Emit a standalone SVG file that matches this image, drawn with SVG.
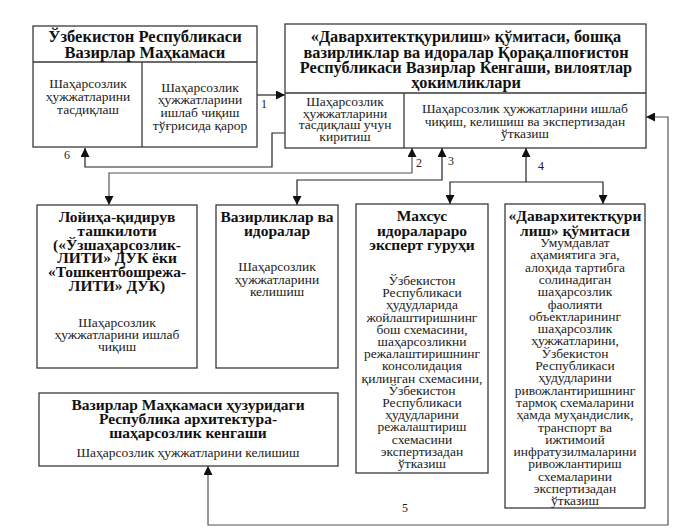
<svg xmlns="http://www.w3.org/2000/svg" width="679" height="531" viewBox="0 0 679 531">
<style>
.box{fill:#fff;stroke:#3a3a3a;stroke-width:1.3}
.div{fill:none;stroke:#3a3a3a;stroke-width:1.3}
.t{font-family:"Liberation Serif","DejaVu Serif",serif;font-weight:bold;fill:#111;text-anchor:middle}
.b{font-family:"Liberation Serif","DejaVu Serif",serif;fill:#222;text-anchor:middle;font-size:13.5px}
.lbl{font-family:"Liberation Serif","DejaVu Serif",serif;fill:#222;font-size:12px}
.c{fill:none;stroke:#222;stroke-width:1.2}
.cg{fill:none;stroke:#555;stroke-width:1.2}
</style>
<defs>
<marker id="ah" viewBox="0 0 10 10" refX="10" refY="5" markerWidth="9" markerHeight="9" markerUnits="userSpaceOnUse" orient="auto-start-reverse">
<path d="M0,0 L10,5 L0,10 z" fill="#111"/>
</marker>
</defs>
<rect width="679" height="531" fill="#fff"/>

<g id="connectors">
<path class="c" d="M257,95 H285" marker-end="url(#ah)"/>
<path class="c" d="M285,133 H272 V167 H85 V148" marker-end="url(#ah)"/>
<path class="cg" d="M412,148 V173 H109 V205" marker-start="url(#ah)" marker-end="url(#ah)"/>
<path class="c" d="M442,148 V180 H297 V205" marker-start="url(#ah)" marker-end="url(#ah)"/>
<path class="c" d="M526,148 V182" marker-start="url(#ah)"/>
<path class="c" d="M450,204 V182 H603 V204" marker-start="url(#ah)" marker-end="url(#ah)"/>
<path class="cg" d="M646,117 H668 V525 H208 V466" marker-start="url(#ah)" marker-end="url(#ah)"/>
<text class="lbl" x="261" y="108">1</text>
<text class="lbl" x="416" y="167">2</text>
<text class="lbl" x="448" y="165">3</text>
<text class="lbl" x="538" y="170">4</text>
<text class="lbl" x="402" y="512">5</text>
<text class="lbl" x="64" y="159">6</text>
</g>

<g id="node-vm">
<rect class="box" x="33" y="26" width="224" height="121"/>
<path class="div" d="M33,62 H257 M142,62 V147"/>
<text class="t" font-size="16.5" x="145" y="42">Ўзбекистон Республикаси</text>
<text class="t" font-size="16.5" x="145" y="58">Вазирлар Маҳкамаси</text>
<text class="b" x="88" y="88">Шаҳарсозлик</text>
<text class="b" x="88" y="101">ҳужжатларини</text>
<text class="b" x="88" y="114">тасдиқлаш</text>
<text class="b" x="200" y="92">Шаҳарсозлик</text>
<text class="b" x="200" y="104">ҳужжатларини</text>
<text class="b" x="200" y="117">ишлаб чиқиш</text>
<text class="b" x="200" y="130">тўғрисида қарор</text>
</g>

<g id="node-committee">
<rect class="box" x="285" y="24" width="361" height="124"/>
<path class="div" d="M285,93 H646 M404,93 V148"/>
<text class="t" font-size="16.3" x="466" y="42">«Давархитектқурилиш» қўмитаси, бошқа</text>
<text class="t" font-size="16.3" x="466" y="58">вазирликлар ва идоралар Қорақалпоғистон</text>
<text class="t" font-size="16.3" x="466" y="73">Республикаси Вазирлар Кенгаши, вилоятлар</text>
<text class="t" font-size="16.3" x="466" y="88">ҳокимликлари</text>
<text class="b" x="345" y="106">Шаҳарсозлик</text>
<text class="b" x="345" y="118">ҳужжатларини</text>
<text class="b" x="345" y="129">тасдиқлаш учун</text>
<text class="b" x="345" y="141">киритиш</text>
<text class="b" font-size="14.2" x="525" y="113">Шаҳарсозлик ҳужжатларини ишлаб</text>
<text class="b" font-size="14.2" x="525" y="126">чиқиш, келишиш ва экспертизадан</text>
<text class="b" font-size="14.2" x="525" y="138">ўтказиш</text>
</g>

<g id="node-design">
<rect class="box" x="37" y="205" width="160" height="163"/>
<text class="t" font-size="15.5" x="117" y="222">Лойиҳа-қидирув</text>
<text class="t" font-size="15.5" x="117" y="236">ташкилоти</text>
<text class="t" font-size="15.5" x="117" y="250">(«Ўзшаҳарсозлик-</text>
<text class="t" font-size="15.5" x="117" y="263">ЛИТИ» ДУК ёки</text>
<text class="t" font-size="15.5" x="117" y="277">«Тошкентбошрежа-</text>
<text class="t" font-size="15.5" x="117" y="291">ЛИТИ» ДУК)</text>
<text class="b" x="117" y="327">Шаҳарсозлик</text>
<text class="b" x="117" y="339">ҳужжатларини ишлаб</text>
<text class="b" x="117" y="351">чиқиш</text>
</g>

<g id="node-ministries">
<rect class="box" x="216" y="205" width="122" height="163"/>
<text class="t" font-size="15.5" x="277" y="222">Вазирликлар ва</text>
<text class="t" font-size="15.5" x="277" y="236">идоралар</text>
<text class="b" x="277" y="271">Шаҳарсозлик</text>
<text class="b" x="277" y="284">ҳужжатларини</text>
<text class="b" x="277" y="296">келишиш</text>
</g>

<g id="node-expert">
<rect class="box" x="356" y="204" width="132" height="269"/>
<text class="t" font-size="15.5" x="422" y="221">Махсус</text>
<text class="t" font-size="15.5" x="422" y="236">идоралараро</text>
<text class="t" font-size="15.5" x="422" y="250">эксперт гуруҳи</text>
<text class="b" x="422" y="285">Ўзбекистон</text>
<text class="b" x="422" y="297.2">Республикаси</text>
<text class="b" x="422" y="309.4">ҳудудларида</text>
<text class="b" x="422" y="321.6">жойлаштиришнинг</text>
<text class="b" x="422" y="333.8">бош схемасини,</text>
<text class="b" x="422" y="346">шаҳарсозликни</text>
<text class="b" x="422" y="358.2">режалаштиришнинг</text>
<text class="b" x="422" y="370.4">консолидация</text>
<text class="b" x="422" y="382.6">қилинган схемасини,</text>
<text class="b" x="422" y="394.8">Ўзбекистон</text>
<text class="b" x="422" y="407">Республикаси</text>
<text class="b" x="422" y="419.2">ҳудудларини</text>
<text class="b" x="422" y="431.4">режалаштириш</text>
<text class="b" x="422" y="443.6">схемасини</text>
<text class="b" x="422" y="455.8">экспертизадан</text>
<text class="b" x="422" y="468">ўтказиш</text>
</g>

<g id="node-committee2">
<rect class="box" x="505" y="204" width="140" height="304"/>
<text class="t" font-size="15.5" x="575" y="221">«Давархитектқури</text>
<text class="t" font-size="15.5" x="575" y="236">лиш» қўмитаси</text>
<text class="b" x="575" y="247">Умумдавлат</text>
<text class="b" x="575" y="259.3">аҳамиятига эга,</text>
<text class="b" x="575" y="271.6">алоҳида тартибга</text>
<text class="b" x="575" y="283.9">солинадиган</text>
<text class="b" x="575" y="296.2">шаҳарсозлик</text>
<text class="b" x="575" y="308.5">фаолияти</text>
<text class="b" x="575" y="320.8">объектларининг</text>
<text class="b" x="575" y="333.1">шаҳарсозлик</text>
<text class="b" x="575" y="345.4">ҳужжатларини,</text>
<text class="b" x="575" y="357.7">Ўзбекистон</text>
<text class="b" x="575" y="370">Республикаси</text>
<text class="b" x="575" y="382.3">ҳудудларини</text>
<text class="b" x="575" y="394.6">ривожлантиришнинг</text>
<text class="b" x="575" y="406.9">тармоқ схемаларини</text>
<text class="b" x="575" y="419.2">ҳамда муҳандислик,</text>
<text class="b" x="575" y="431.5">транспорт ва</text>
<text class="b" x="575" y="443.8">ижтимоий</text>
<text class="b" x="575" y="456.1">инфратузилмаларини</text>
<text class="b" x="575" y="468.4">ривожлантириш</text>
<text class="b" x="575" y="480.7">схемаларини</text>
<text class="b" x="575" y="493">экспертизадан</text>
<text class="b" x="575" y="505.3">ўтказиш</text>
</g>

<g id="node-council">
<rect class="box" x="39" y="393" width="299" height="73"/>
<text class="t" font-size="15.5" x="188" y="410">Вазирлар Маҳкамаси ҳузуридаги</text>
<text class="t" font-size="15.5" x="188" y="424">Республика архитектура-</text>
<text class="t" font-size="15.5" x="188" y="438">шаҳарсозлик кенгаши</text>
<text class="b" font-size="15" x="188" y="457">Шаҳарсозлик ҳужжатларини келишиш</text>
</g>
</svg>
